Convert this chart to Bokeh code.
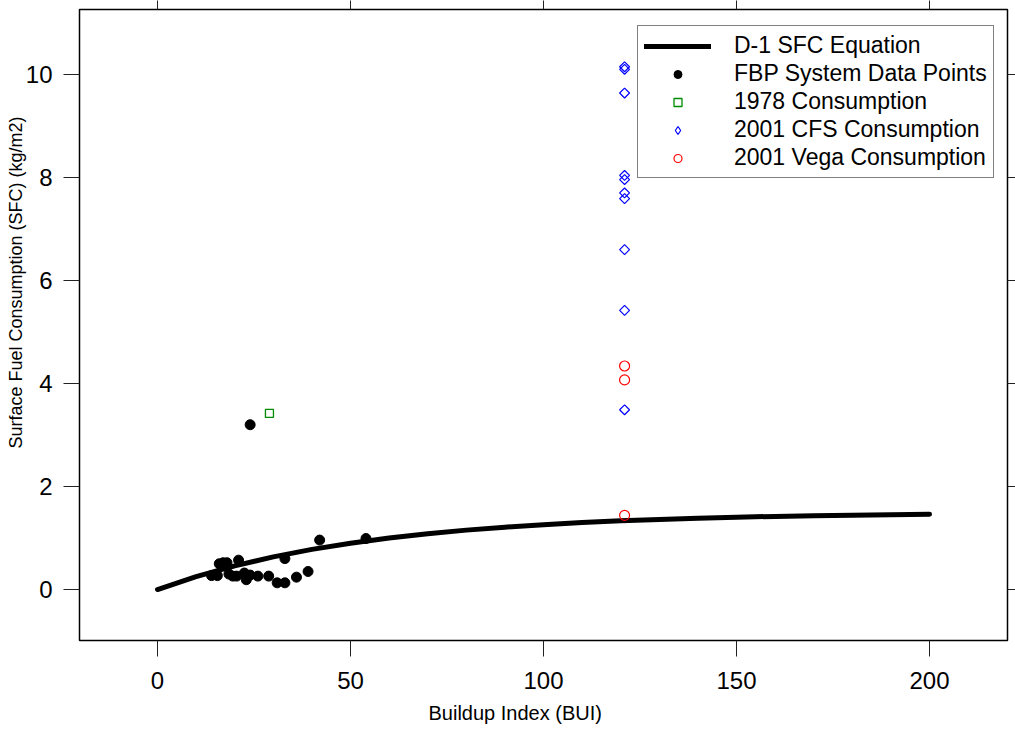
import numpy as np
from bokeh.plotting import figure
from bokeh.models import Range1d, LinearAxis, FixedTicker, Title, Legend, LegendItem
from bokeh.embed import file_html
from bokeh.resources import INLINE

# ---- data ----
curve_bui = [0, 10, 20, 30, 40, 50, 60, 70, 80, 90, 100, 110, 120, 130, 140, 150, 160, 170, 180, 190, 200]
curve_sfc = [0.0, 0.251, 0.460, 0.634, 0.779, 0.899, 0.999, 1.083, 1.153, 1.211, 1.259, 1.300, 1.333,
             1.361, 1.384, 1.404, 1.420, 1.433, 1.444, 1.454, 1.461]

fbp_bui = [14, 15.5, 16, 17, 18, 18.5, 19.5, 20.5, 21, 22.5, 23, 24, 26, 28.8, 31, 33, 33, 36, 39, 42, 54, 24]
fbp_sfc = [0.27, 0.27, 0.50, 0.52, 0.52, 0.30, 0.26, 0.26, 0.57, 0.32, 0.19, 0.28, 0.26, 0.26, 0.13, 0.13,
           0.60, 0.24, 0.35, 0.96, 0.99, 3.20]

c1978_bui = [29]
c1978_sfc = [3.42]

cfs_bui = [121, 121, 121, 121, 121, 121, 121, 121, 121, 121]
cfs_sfc = [10.15, 10.10, 9.64, 8.04, 7.96, 7.70, 7.59, 6.60, 5.42, 3.49]

vega_bui = [121, 121, 121]
vega_sfc = [4.34, 4.07, 1.44]

x_ticks = [0, 50, 100, 150, 200]
y_ticks = [0, 2, 4, 6, 8, 10]

FONT = "Liberation Sans"

p = figure(width=1015, height=736, output_backend="svg", toolbar_location=None,
           x_range=Range1d(-20.21, 220.2), y_range=Range1d(-0.99, 11.262),
           min_border_left=79, min_border_right=8, min_border_top=9, min_border_bottom=96)
p.xgrid.visible = False
p.ygrid.visible = False
p.outline_line_color = "black"
p.outline_line_width = 1.5
p.background_fill_color = "white"
p.border_fill_color = "white"


def style_axis(ax, ticks, labels=True, tick_out=16, standoff=11):
    ax.ticker = FixedTicker(ticks=ticks)
    ax.axis_line_color = None
    ax.major_tick_line_color = "#222222"
    ax.major_tick_line_width = 1
    ax.major_tick_out = tick_out
    ax.major_tick_in = 0
    ax.minor_tick_line_color = None
    ax.major_label_standoff = standoff
    ax.major_label_text_font = FONT
    if labels:
        ax.major_label_text_font_size = "24px"
        ax.major_label_text_color = "black"
    else:
        ax.major_label_overrides = {t: "" for t in ticks}
        ax.major_label_text_font_size = "1px"


style_axis(p.xaxis[0], x_ticks, True, 16, 15)
style_axis(p.yaxis[0], y_ticks, True, 16, 11)
p.yaxis[0].major_label_orientation = "horizontal"

top = LinearAxis()
style_axis(top, x_ticks, False, 9, 0)
p.add_layout(top, "above")
right = LinearAxis()
style_axis(right, y_ticks, False, 8, 0)
p.add_layout(right, "right")

# ---- marks ----
r_line = p.line(curve_bui, curve_sfc, line_color="black", line_width=5, line_cap="round",
                line_join="round")
r_fbp = p.scatter(fbp_bui, fbp_sfc, marker="circle", size=10, fill_color="black", line_color="black")
r_1978 = p.scatter(c1978_bui, c1978_sfc, marker="square", size=8, fill_color=None,
                   line_color="#008B00", line_width=1.3)
r_cfs = p.scatter(cfs_bui, cfs_sfc, marker="square", angle=np.pi / 4, size=7, fill_color=None,
                  line_color="#0000FF", line_width=1.2)
# legend key for the CFS series (legend keys are never drawn rotated); hidden in the plot
r_cfs_key = p.scatter(cfs_bui, cfs_sfc, marker="diamond", size=10, fill_color=None,
                      line_color="#0000FF", line_width=1.2, visible=False)
r_vega = p.scatter(vega_bui, vega_sfc, marker="circle", size=10, fill_color=None,
                   line_color="#FF0000", line_width=1.2)

# ---- axis titles ----
p.add_layout(Title(text="Buildup Index (BUI)", align="left", offset=349, standoff=21,
                   vertical_align="top",
                   text_font=FONT, text_font_size="20px", text_font_style="normal",
                   text_color="black"), "below")
p.add_layout(Title(text="Surface Fuel Consumption (SFC) (kg/m2)", align="left", offset=192,
                   standoff=-7, text_font=FONT, text_font_size="18px",
                   text_font_style="normal", text_color="black"), "left")

# ---- legend ----
lg = Legend(items=[
    LegendItem(label="D-1 SFC Equation", renderers=[r_line]),
    LegendItem(label="FBP System Data Points", renderers=[r_fbp]),
    LegendItem(label="1978 Consumption", renderers=[r_1978]),
    LegendItem(label="2001 CFS Consumption", renderers=[r_cfs_key]),
    LegendItem(label="2001 Vega Consumption", renderers=[r_vega]),
])
lg.location = (558, 462)
lg.border_line_color = "black"
lg.border_line_width = 1.5
lg.background_fill_color = "white"
lg.background_fill_alpha = 1.0
lg.inactive_fill_alpha = 0.0
lg.label_text_font = FONT
lg.label_text_font_size = "23px"
lg.label_text_color = "black"
lg.glyph_width = 67
lg.glyph_height = 20
lg.label_height = 20
lg.label_standoff = 23
lg.padding = 6
lg.spacing = 1
p.add_layout(lg, "center")

open("out.html", "w").write(file_html(p, INLINE))
